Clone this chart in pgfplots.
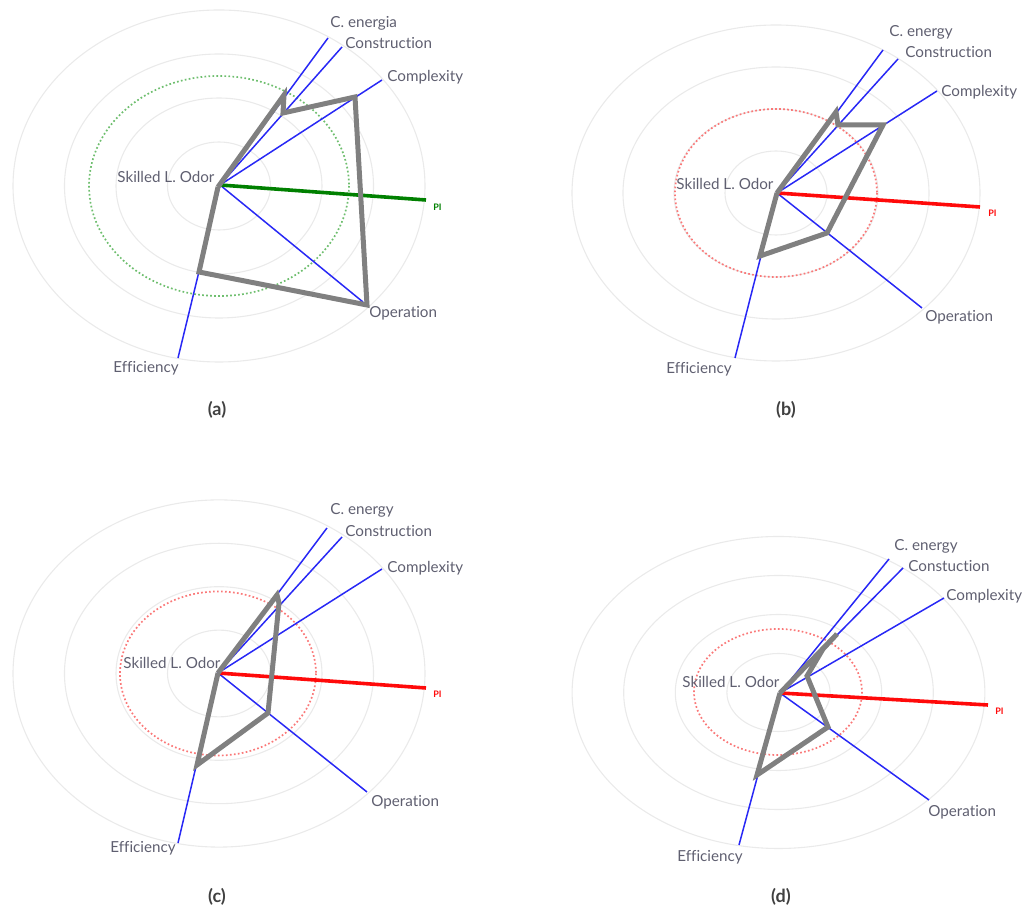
\documentclass[border=0pt]{standalone}
\usepackage{pgfplots}
\pgfplotsset{compat=1.18}
\usepackage{fontspec}
\setmainfont{Lato}[Ligatures=NoCommon]
\definecolor{ringc}{RGB}{234,234,234}
\definecolor{spoke}{RGB}{40,40,245}
\definecolor{polyc}{RGB}{128,128,128}
\definecolor{lbl}{RGB}{95,95,112}
\definecolor{pigreen}{RGB}{0,128,0}
\definecolor{pired}{RGB}{255,10,10}
\definecolor{dotg}{RGB}{110,190,110}
\definecolor{dotr}{RGB}{250,120,120}
\tikzset{
  rlab/.style={font=\fontsize{7.6}{9}\selectfont, text=lbl, anchor=west, inner sep=0pt},
  pilab/.style={font=\fontsize{4.5}{5}\bfseries\selectfont, anchor=west, inner sep=0pt},
  subcap/.style={font=\fontsize{9}{11}\bfseries\selectfont, text=black!75, inner sep=0pt},
  dotl/.style={line width=0.85pt, dash pattern=on 0.85pt off 1.15pt},
}
\begin{document}
\begin{tikzpicture}
\begin{axis}[
  hide axis, scale only axis, clip=false,
  width=512.5pt, height=454pt,
  xmin=0, xmax=1025, ymin=0, ymax=908, y dir=reverse,
  every axis plot/.append style={mark=none},
]
% ---------------- rings ----------------
\pgfplotsinvokeforeach{1,2,3,4}{
  \draw[ringc, line width=0.55pt] (axis cs:219,186) ellipse [x radius={51.5*#1}, y radius={44*#1}];
  \draw[ringc, line width=0.55pt] (axis cs:776,193) ellipse [x radius={51*#1}, y radius={42*#1}];
  \draw[ringc, line width=0.55pt] (axis cs:219,673.5) ellipse [x radius={51.5*#1}, y radius={43.4*#1}];
  \draw[ringc, line width=0.55pt] (axis cs:778.5,692.5) ellipse [x radius={51.6*#1}, y radius={39*#1}];
}
\draw[dotg, dotl] (axis cs:219,186) ellipse [x radius=130, y radius=110];
\draw[dotr, dotl] (axis cs:776,193) ellipse [x radius=101, y radius=84];
\draw[dotr, dotl] (axis cs:218,673.5) ellipse [x radius=98, y radius=82];
\draw[dotr, dotl] (axis cs:778,692) ellipse [x radius=84, y radius=63];

% ---------------- panel (a) ----------------
\addplot[spoke, line width=0.75pt] coordinates {(328,38) (220,185) (342,47)};
\addplot[spoke, line width=0.75pt] coordinates {(382,80) (220,185) (363,302)};
\addplot[spoke, line width=0.75pt] coordinates {(220,185) (178,358)};
\addplot[pigreen, line width=1.8pt] coordinates {(220,185) (426,200)};
\addplot[polyc, line width=2.5pt, line join=miter] coordinates {(218,187) (284,95) (283,113) (355,97) (367,305) (199,272) (218,187)};
\node[rlab] at (axis cs:330,23) {C. energia};
\node[rlab] at (axis cs:345,43) {Construction};
\node[rlab] at (axis cs:387,77) {Complexity};
\node[pilab, text=pigreen] at (axis cs:433,207) {PI};
\node[rlab] at (axis cs:369,313) {Operation};
\node[rlab] at (axis cs:113,368) {Efficiency};
\node[rlab] at (axis cs:117,177) {Skilled L. Odor};
\node[subcap] at (axis cs:217,410) {(a)};

% ---------------- panel (b) ----------------
\addplot[spoke, line width=0.75pt] coordinates {(883,50) (777,193) (898,59)};
\addplot[spoke, line width=0.75pt] coordinates {(937,91) (777,193) (922,308)};
\addplot[spoke, line width=0.75pt] coordinates {(777,193) (735,358)};
\addplot[pired, line width=1.8pt] coordinates {(777,193) (980,207)};
\addplot[polyc, line width=2.5pt, line join=miter] coordinates {(777,193) (836,112) (838,125) (883,125) (827,233) (760,256) (777,193)};
\node[rlab] at (axis cs:889,32) {C. energy};
\node[rlab] at (axis cs:905,52) {Construction};
\node[rlab] at (axis cs:941,92) {Complexity};
\node[pilab, text=pired] at (axis cs:988,213) {PI};
\node[rlab] at (axis cs:925,317) {Operation};
\node[rlab] at (axis cs:666,369) {Efficiency};
\node[rlab] at (axis cs:676,184) {Skilled L. Odor};
\node[subcap] at (axis cs:786,410) {(b)};

% ---------------- panel (c) ----------------
\addplot[spoke, line width=0.75pt] coordinates {(327,528) (218,673) (342,537)};
\addplot[spoke, line width=0.75pt] coordinates {(382,569) (218,673) (367,792)};
\addplot[spoke, line width=0.75pt] coordinates {(218,673) (178,843)};
\addplot[pired, line width=1.8pt] coordinates {(218,673) (426,688)};
\addplot[polyc, line width=2.5pt, line join=miter] coordinates {(218,673) (277,595) (279,603) (268,713) (197,765) (218,673)};
\node[rlab] at (axis cs:330,510) {C. energy};
\node[rlab] at (axis cs:345,531) {Construction};
\node[rlab] at (axis cs:387,568) {Complexity};
\node[pilab, text=pired] at (axis cs:433,694) {PI};
\node[rlab] at (axis cs:371,802) {Operation};
\node[rlab] at (axis cs:110,848) {Efficiency};
\node[rlab] at (axis cs:123,663) {Skilled L. Odor};
\node[subcap] at (axis cs:217,897) {(c)};

% ---------------- panel (d) ----------------
\addplot[spoke, line width=0.75pt] coordinates {(889,559) (780,693) (903,568)};
\addplot[spoke, line width=0.75pt] coordinates {(944,598) (780,693) (929,800)};
\addplot[spoke, line width=0.75pt] coordinates {(780,693) (739,845)};
\addplot[pired, line width=1.8pt] coordinates {(780,693) (988,705)};
\addplot[polyc, line width=2.5pt, line join=miter] coordinates {(780,693) (837,634) (823,649) (807,676) (828,727) (757,775) (780,693)};
\node[rlab] at (axis cs:894,546) {C. energy};
\node[rlab] at (axis cs:908,566) {Constuction};
\node[rlab] at (axis cs:946,596) {Complexity};
\node[pilab, text=pired] at (axis cs:995,711) {PI};
\node[rlab] at (axis cs:928,812) {Operation};
\node[rlab] at (axis cs:677,857) {Efficiency};
\node[rlab] at (axis cs:682,682) {Skilled L. Odor};
\node[subcap] at (axis cs:781,897) {(d)};

\coordinate (bl) at (axis cs:0,908);
\coordinate (tr) at (axis cs:1025,0);
\end{axis}
\pgfresetboundingbox
\path[use as bounding box] (bl) rectangle (tr);
\end{tikzpicture}
\end{document}
